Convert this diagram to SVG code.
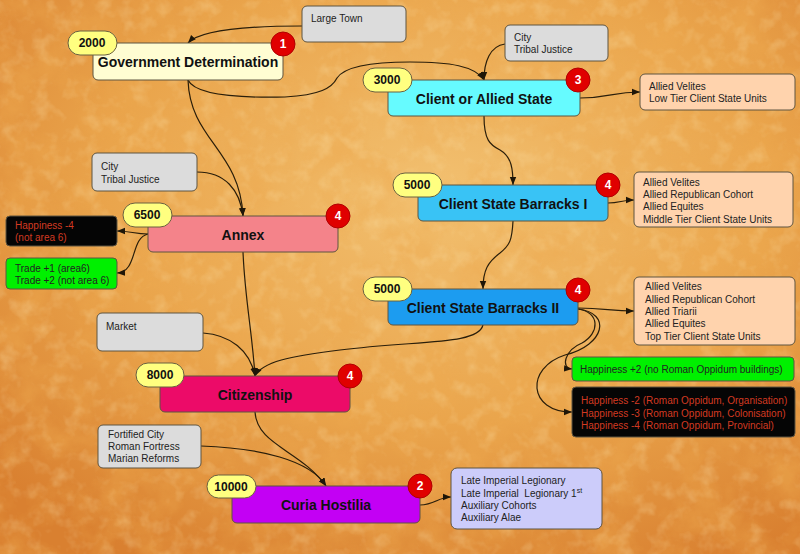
<svg xmlns="http://www.w3.org/2000/svg" width="800" height="554" viewBox="0 0 800 554">
<defs>
<radialGradient id="bg" cx="55%" cy="35%" r="75%">
<stop offset="0" stop-color="#f2c070"/>
<stop offset="0.55" stop-color="#eaa54c"/>
<stop offset="1" stop-color="#d98030"/>
</radialGradient>
<filter id="tex" x="0" y="0" width="100%" height="100%">
<feTurbulence type="fractalNoise" baseFrequency="0.022" numOctaves="5" seed="7"/>
<feColorMatrix type="matrix" values="0 0 0 0 0.85  0 0 0 0 0.4  0 0 0 0 0.08  2.2 0 0 0 -0.9"/>
</filter>
<filter id="tex2" x="0" y="0" width="100%" height="100%">
<feTurbulence type="fractalNoise" baseFrequency="0.06" numOctaves="3" seed="21"/>
<feColorMatrix type="matrix" values="0 0 0 0 0.98  0 0 0 0 0.8  0 0 0 0 0.45  2.0 0 0 0 -0.95"/>
</filter>
<marker id="ar" viewBox="0 0 8 8" refX="8" refY="4" markerWidth="8" markerHeight="8" markerUnits="userSpaceOnUse" orient="auto">
<path d="M0,0.8 L8,4 L0,7.2 z" fill="#1e1608"/>
</marker>
<style>
.box{stroke:#5e5440;stroke-width:1}
.title{font-family:"Liberation Sans",Arial,sans-serif;font-weight:bold;font-size:14px;fill:#111;text-anchor:middle}
.sm{font-family:"Liberation Sans",Arial,sans-serif;font-size:10px;fill:#222}
.badge{fill:#ffff80;stroke:#6a6040;stroke-width:1}
.bt{font-family:"Liberation Sans",Arial,sans-serif;font-weight:bold;font-size:12px;fill:#111;text-anchor:middle}
.red{fill:#e00000;stroke:#b00000;stroke-width:1}
.rt{font-family:"Liberation Sans",Arial,sans-serif;font-weight:bold;font-size:12px;fill:#fff;text-anchor:middle}
.gray{fill:#dcdcdc}
.peach{fill:#ffd3ad}
.green{fill:#00f000}
.black{fill:#050505}
.neg{fill:#d33a22}
.conn{fill:none;stroke:#2a1e0a;stroke-width:1.2;marker-end:url(#ar)}
</style>
</defs>
<rect width="800" height="554" fill="url(#bg)"/>
<rect width="800" height="554" filter="url(#tex)" opacity="0.55"/>
<rect width="800" height="554" filter="url(#tex2)" opacity="0.35"/>

<g id="connectors">
<path class="conn" d="M302,26 C250,26 200,30 188,43"/>
<path class="conn" d="M188,80 C195,95 240,98 285,97 C320,95 332,88 337,78 C345,66 375,62 410,62 C450,62 475,66 484,80"/>
<path class="conn" d="M505,44 C490,46 484,62 484,80"/>
<path class="conn" d="M580,98 C610,98 612,92 640,92"/>
<path class="conn" d="M484,116 C484,140 490,145 500,150 C512,157 513,170 513,185"/>
<path class="conn" d="M608,203 C620,203 622,200 634,200"/>
<path class="conn" d="M513,221 C512,240 510,245 500,253 C488,262 483,270 483,289"/>
<path class="conn" d="M188,80 C190,140 240,150 243,216"/>
<path class="conn" d="M197,172 C225,172 240,190 243,216"/>
<path class="conn" d="M148,234 C135,234 130,231 117,231"/>
<path class="conn" d="M148,234 C130,238 138,272 117,273"/>
<path class="conn" d="M243,252 C245,300 252,330 255,376"/>
<path class="conn" d="M203,333 C230,335 250,350 255,376"/>
<path class="conn" d="M483,325 C478,345 420,340 340,350 C290,356 262,362 255,376"/>
<path class="conn" d="M578,308 C605,308 610,311 634,311"/>
<path class="conn" d="M578,309 C600,312 600,333 582,343 C565,350 560,368 572,369"/>
<path class="conn" d="M578,309 C612,313 605,345 565,355 C525,368 528,412 572,412"/>
<path class="conn" d="M255,412 C257,445 300,450 326,486"/>
<path class="conn" d="M201,446 C260,448 310,460 326,486"/>
<path class="conn" d="M420,505 C435,505 438,497 451,497"/>
</g>

<g id="large-town">
<rect class="box gray" x="302" y="6" width="104" height="36" rx="5"/>
<text class="sm" x="311" y="22">Large Town</text>
</g>

<g id="government-determination">
<rect class="box" fill="#fffdd2" x="93" y="43" width="190" height="37" rx="5"/>
<text class="title" x="188" y="67">Government Determination</text>
<rect class="badge" x="68" y="31" width="49" height="24" rx="12"/>
<text class="bt" x="92" y="47">2000</text>
<circle class="red" cx="283" cy="44" r="12"/>
<text class="rt" x="283" y="48">1</text>
</g>

<g id="city-tribal-1">
<rect class="box gray" x="505" y="25" width="103" height="36" rx="5"/>
<text class="sm" x="514" y="41">City</text>
<text class="sm" x="514" y="53">Tribal Justice</text>
</g>

<g id="client-allied-state">
<rect class="box" fill="#66fbff" x="388" y="80" width="192" height="36" rx="5"/>
<text class="title" x="484" y="104">Client or Allied State</text>
<rect class="badge" x="363" y="68" width="49" height="24" rx="12"/>
<text class="bt" x="387" y="84">3000</text>
<circle class="red" cx="578" cy="80" r="12"/>
<text class="rt" x="578" y="84">3</text>
</g>

<g id="units-low">
<rect class="box peach" x="640" y="74" width="155" height="36" rx="5"/>
<text class="sm" x="649" y="90">Allied Velites</text>
<text class="sm" x="649" y="102">Low Tier Client State Units</text>
</g>

<g id="barracks-1">
<rect class="box" fill="#39c3f5" x="418" y="185" width="190" height="36" rx="5"/>
<text class="title" x="513" y="209">Client State Barracks I</text>
<rect class="badge" x="393" y="173" width="49" height="24" rx="12"/>
<text class="bt" x="417" y="189">5000</text>
<circle class="red" cx="608" cy="185" r="12"/>
<text class="rt" x="608" y="189">4</text>
</g>

<g id="units-mid">
<rect class="box peach" x="634" y="172" width="159" height="55" rx="5"/>
<text class="sm" x="643" y="186">Allied Velites</text>
<text class="sm" x="643" y="198">Allied Republican Cohort</text>
<text class="sm" x="643" y="210">Allied Equites</text>
<text class="sm" x="643" y="223">Middle Tier Client State Units</text>
</g>

<g id="barracks-2">
<rect class="box" fill="#1c9cf0" x="388" y="289" width="190" height="36" rx="5"/>
<text class="title" x="483" y="313">Client State Barracks II</text>
<rect class="badge" x="363" y="277" width="49" height="24" rx="12"/>
<text class="bt" x="387" y="293">5000</text>
<circle class="red" cx="578" cy="290" r="12"/>
<text class="rt" x="578" y="294">4</text>
</g>

<g id="units-top">
<rect class="box peach" x="634" y="277" width="161" height="68" rx="5"/>
<text class="sm" x="645" y="290">Allied Velites</text>
<text class="sm" x="645" y="303">Allied Republican Cohort</text>
<text class="sm" x="645" y="315">Allied Triarii</text>
<text class="sm" x="645" y="327">Allied Equites</text>
<text class="sm" x="645" y="340">Top Tier Client State Units</text>
</g>

<g id="happiness-plus2">
<rect class="box green" x="572" y="357" width="222" height="24" rx="4"/>
<text class="sm" x="580" y="373">Happiness +2 (no Roman Oppidum buildings)</text>
</g>

<g id="happiness-minus">
<rect class="box black" x="572" y="387" width="223" height="50" rx="4"/>
<text class="sm neg" x="581" y="404">Happiness -2 (Roman Oppidum, Organisation)</text>
<text class="sm neg" x="581" y="417">Happiness -3 (Roman Oppidum, Colonisation)</text>
<text class="sm neg" x="581" y="429">Happiness -4 (Roman Oppidum, Provincial)</text>
</g>

<g id="city-tribal-2">
<rect class="box gray" x="92" y="153" width="105" height="38" rx="5"/>
<text class="sm" x="101" y="170">City</text>
<text class="sm" x="101" y="183">Tribal Justice</text>
</g>

<g id="annex">
<rect class="box" fill="#f4838a" x="148" y="216" width="190" height="36" rx="5"/>
<text class="title" x="243" y="240">Annex</text>
<rect class="badge" x="123" y="203" width="49" height="24" rx="12"/>
<text class="bt" x="147" y="219">6500</text>
<circle class="red" cx="338" cy="216" r="12"/>
<text class="rt" x="338" y="220">4</text>
</g>

<g id="annex-happiness">
<rect class="box black" x="6" y="216" width="111" height="30" rx="4"/>
<text class="sm neg" x="15" y="229">Happiness -4</text>
<text class="sm neg" x="15" y="241">(not area 6)</text>
</g>

<g id="annex-trade">
<rect class="box green" x="6" y="258" width="111" height="31" rx="4"/>
<text class="sm" x="15" y="272">Trade +1 (area6)</text>
<text class="sm" x="15" y="284">Trade +2 (not area 6)</text>
</g>

<g id="market">
<rect class="box gray" x="97" y="313" width="106" height="38" rx="5"/>
<text class="sm" x="106" y="330">Market</text>
</g>

<g id="citizenship">
<rect class="box" fill="#ec0b68" x="160" y="376" width="190" height="36" rx="5"/>
<text class="title" x="255" y="400">Citizenship</text>
<rect class="badge" x="136" y="363" width="48" height="24" rx="12"/>
<text class="bt" x="160" y="379">8000</text>
<circle class="red" cx="350" cy="376" r="12"/>
<text class="rt" x="350" y="380">4</text>
</g>

<g id="fortified-city">
<rect class="box gray" x="98" y="425" width="103" height="43" rx="5"/>
<text class="sm" x="108" y="438">Fortified City</text>
<text class="sm" x="108" y="450">Roman Fortress</text>
<text class="sm" x="108" y="462">Marian Reforms</text>
</g>

<g id="curia-hostilia">
<rect class="box" fill="#c300f4" x="232" y="486" width="188" height="37" rx="5"/>
<text class="title" x="326" y="510">Curia Hostilia</text>
<rect class="badge" x="207" y="475" width="49" height="23" rx="11.5"/>
<text class="bt" x="231" y="491">10000</text>
<circle class="red" cx="420" cy="486" r="12"/>
<text class="rt" x="420" y="490">2</text>
</g>

<g id="legionary-units">
<rect class="box" fill="#ccccfa" x="451" y="468" width="151" height="61" rx="6"/>
<text class="sm" x="461" y="484">Late Imperial Legionary</text>
<text class="sm" x="461" y="497" xml:space="preserve">Late Imperial  Legionary 1<tspan font-size="7" dy="-4">st</tspan></text>
<text class="sm" x="461" y="509">Auxiliary Cohorts</text>
<text class="sm" x="461" y="521">Auxiliary Alae</text>
</g>
</svg>
